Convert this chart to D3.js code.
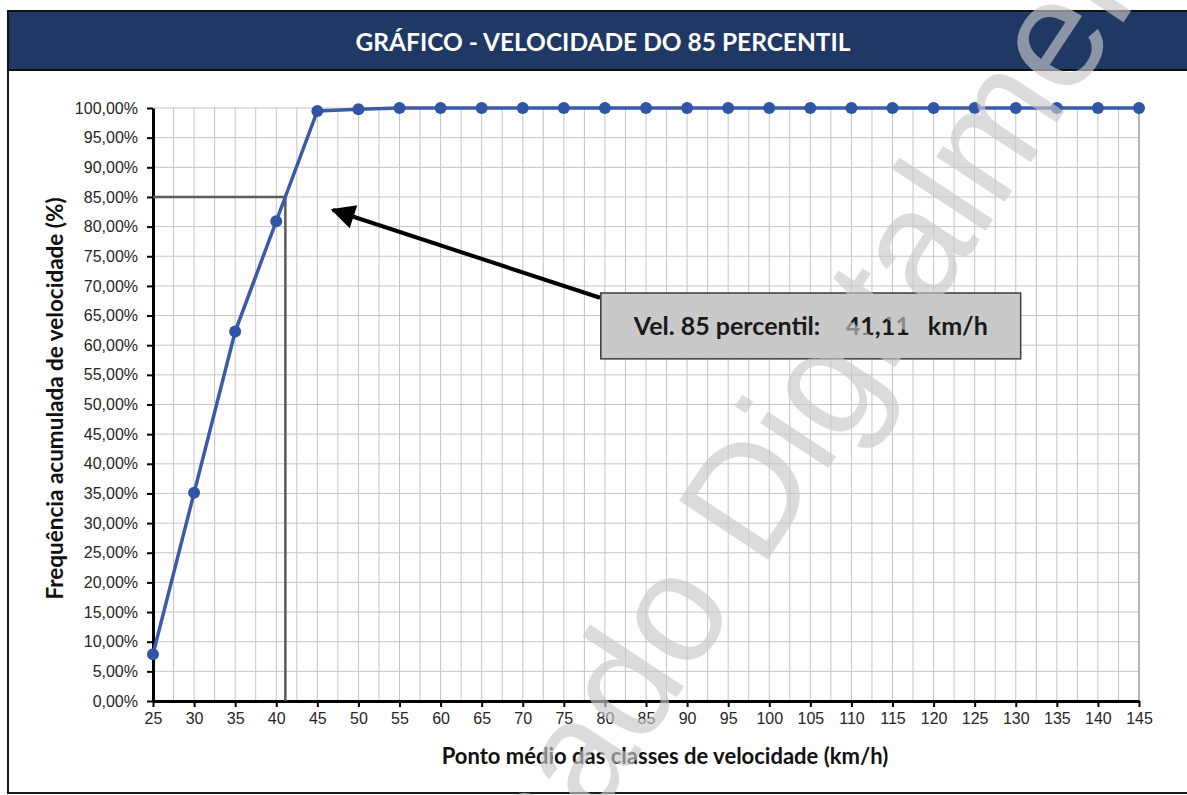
<!DOCTYPE html>
<html>
<head>
<meta charset="utf-8">
<script src="https://cdn.jsdelivr.net/npm/d3@7"></script>
<style>
  body { margin: 0; background: #fff; }
  svg { display: block; font-family: Lato, "Open Sans", sans-serif; }
  .grid line { stroke: #c4c4c4; stroke-width: 1; }
  .tick text { fill: #262626; }
</style>
</head>
<body>
<svg id="chart" width="1187" height="795"></svg>
<script>
// velocidade (ponto medio das classes, km/h)
const speeds = [25, 30, 35, 40, 45, 50, 55, 60, 65, 70, 75, 80, 85, 90, 95, 100, 105, 110, 115, 120, 125, 130, 135, 140, 145];
// frequencia acumulada (fração)
const cumFreq = [0.079, 0.351, 0.623, 0.809, 0.995, 0.998, 1, 1, 1, 1, 1, 1, 1, 1, 1, 1, 1, 1, 1, 1, 1, 1, 1, 1, 1];
const yTicks = d3.range(0, 1.0001, 0.05);
const xTicks = d3.range(25, 146, 5);
const p85 = 41.11;
const p85Level = 0.85;

const title = 'GRÁFICO - VELOCIDADE DO 85 PERCENTIL';
const xAxisLabel = 'Ponto médio das classes de velocidade (km/h)';
const yAxisLabel = 'Frequência acumulada de velocidade (%)';

const svg = d3.select('#chart');
const width = +svg.attr('width');
const height = +svg.attr('height');

// outer frame + title bar
svg.append('rect')
  .attr('x', 8).attr('y', 11)
  .attr('width', width).attr('height', 782)
  .attr('fill', '#fff')
  .attr('stroke', '#1a1a1a').attr('stroke-width', 2);

svg.append('rect')
  .attr('x', 8).attr('y', 11)
  .attr('width', width).attr('height', 59)
  .attr('fill', '#1f3864')
  .attr('stroke', '#111').attr('stroke-width', 2);

svg.append('text')
  .attr('x', 603).attr('y', 51)
  .attr('text-anchor', 'middle')
  .attr('fill', '#fff')
  .attr('font-weight', 'bold')
  .attr('font-size', 24.5)
  .text(title);

const margin = { top: 108, right: 48, bottom: 94, left: 153 };
const innerWidth = width - margin.left - margin.right;
const innerHeight = height - margin.top - margin.bottom;

const xScale = d3.scaleLinear().domain([25, 145]).range([0, innerWidth]);
const yScale = d3.scaleLinear().domain([0, 1]).range([innerHeight, 0]);

const g = svg.append('g')
  .attr('transform', `translate(${margin.left},${margin.top})`);

// grid
const grid = g.append('g').attr('class', 'grid');
grid.selectAll('.v').data(d3.range(25, 145.001, 2.5)).enter().append('line')
  .attr('x1', d => xScale(d)).attr('x2', d => xScale(d))
  .attr('y1', 0).attr('y2', innerHeight);
grid.selectAll('.h').data(yTicks).enter().append('line')
  .attr('x1', 0).attr('x2', innerWidth)
  .attr('y1', d => yScale(d)).attr('y2', d => yScale(d));
grid.append('line')
  .attr('x1', xScale(145)).attr('x2', xScale(145))
  .attr('y1', 0).attr('y2', innerHeight)
  .style('stroke', '#a6a6a6').style('stroke-width', 1.5);

// axes
const fmtPct = d => d3.format('.2f')(d * 100).replace('.', ',') + '%';

const yAxis = d3.axisLeft(yScale)
  .tickValues(yTicks)
  .tickFormat(fmtPct)
  .tickSize(6)
  .tickSizeOuter(0)
  .tickPadding(9);

const yAxisG = g.append('g').call(yAxis);
yAxisG.selectAll('.tick text').attr('font-size', 16);
yAxisG.selectAll('.tick line').attr('stroke', '#000').attr('stroke-width', 2);
yAxisG.select('.domain').attr('stroke', '#000').attr('stroke-width', 3);

const xAxis = d3.axisBottom(xScale)
  .tickValues(xTicks)
  .tickSize(6)
  .tickSizeOuter(0)
  .tickPadding(6);

const xAxisG = g.append('g')
  .attr('transform', `translate(0,${innerHeight})`)
  .call(xAxis);
xAxisG.selectAll('.tick text').attr('font-size', 16);
xAxisG.selectAll('.tick line').attr('stroke', '#000').attr('stroke-width', 2);
xAxisG.select('.domain').attr('stroke', '#000').attr('stroke-width', 3);

svg.append('text')
  .attr('x', 665).attr('y', 764)
  .attr('text-anchor', 'middle')
  .attr('font-weight', 'bold')
  .attr('font-size', 22)
  .attr('fill', '#111')
  .text(xAxisLabel);

svg.append('text')
  .attr('transform', `translate(63,${margin.top + innerHeight / 2 - 6}) rotate(-90)`)
  .attr('text-anchor', 'middle')
  .attr('font-weight', 'bold')
  .attr('font-size', 22.5)
  .attr('fill', '#111')
  .text(yAxisLabel);

// 85 percentil guide lines
g.append('path')
  .attr('d', d3.line()([
    [0, yScale(p85Level)],
    [xScale(p85), yScale(p85Level)],
    [xScale(p85), innerHeight]
  ]))
  .attr('fill', 'none')
  .attr('stroke', '#5a5a5a')
  .attr('stroke-width', 2.5);

// curve
const data = speeds.map((s, i) => ({ x: s, y: cumFreq[i] }));
const lineGenerator = d3.line()
  .x(d => xScale(d.x))
  .y(d => yScale(d.y));

g.append('path')
  .attr('d', lineGenerator(data))
  .attr('fill', 'none')
  .attr('stroke', '#3a5ba8')
  .attr('stroke-width', 3.5);

g.selectAll('.pt').data(data).enter().append('circle')
  .attr('cx', d => xScale(d.x))
  .attr('cy', d => yScale(d.y))
  .attr('r', 6)
  .attr('fill', '#2f55a4');

// annotation arrow + box (in data units)
const arrowFrom = [79.4, 0.68];
const arrowTo = [46.9, 0.828];
const boxX = [79.5, 130.6];
const boxY = [0.577, 0.688];

svg.append('defs').append('marker')
  .attr('id', 'head')
  .attr('viewBox', '0 0 10 10')
  .attr('refX', 9).attr('refY', 5)
  .attr('markerWidth', 7).attr('markerHeight', 6)
  .attr('markerUnits', 'strokeWidth')
  .attr('orient', 'auto')
  .append('path')
  .attr('d', 'M0,0 L10,5 L0,10 Z')
  .attr('fill', '#000');

g.append('line')
  .attr('x1', xScale(arrowFrom[0])).attr('y1', yScale(arrowFrom[1]))
  .attr('x2', xScale(arrowTo[0])).attr('y2', yScale(arrowTo[1]))
  .attr('stroke', '#000')
  .attr('stroke-width', 4)
  .attr('marker-end', 'url(#head)');

const bx = xScale(boxX[0]);
const by = yScale(boxY[1]);
const bw = xScale(boxX[1]) - bx;
const bh = yScale(boxY[0]) - by;

g.append('rect')
  .attr('x', bx).attr('y', by)
  .attr('width', bw).attr('height', bh)
  .attr('fill', '#c9c9c9')
  .attr('stroke', '#3c3c3c')
  .attr('stroke-width', 1.5);

const boxText = g.append('text')
  .attr('y', by + bh / 2 + 9)
  .attr('font-weight', 'bold')
  .attr('font-size', 25)
  .attr('fill', '#1a1a1a');
boxText.append('tspan').attr('x', bx + 33).text('Vel. 85 percentil:');
boxText.append('tspan').attr('x', bx + 245).text(p85.toFixed(2).replace('.', ','));
boxText.append('tspan').attr('x', bx + 327).text('km/h');

// watermark
const wm = svg.append('g')
  .attr('transform', 'translate(761,570) rotate(-56.5)')
  .attr('font-family', '"Liberation Sans", Arial, sans-serif')
  .attr('font-size', 155)
  .attr('fill', 'rgba(200,200,200,0.65)');
wm.append('text').attr('x', -43).attr('text-anchor', 'end').text('Assinado');
wm.append('text').attr('x', 0).attr('text-anchor', 'start').text('Digitalmente');
</script>
</body>
</html>
